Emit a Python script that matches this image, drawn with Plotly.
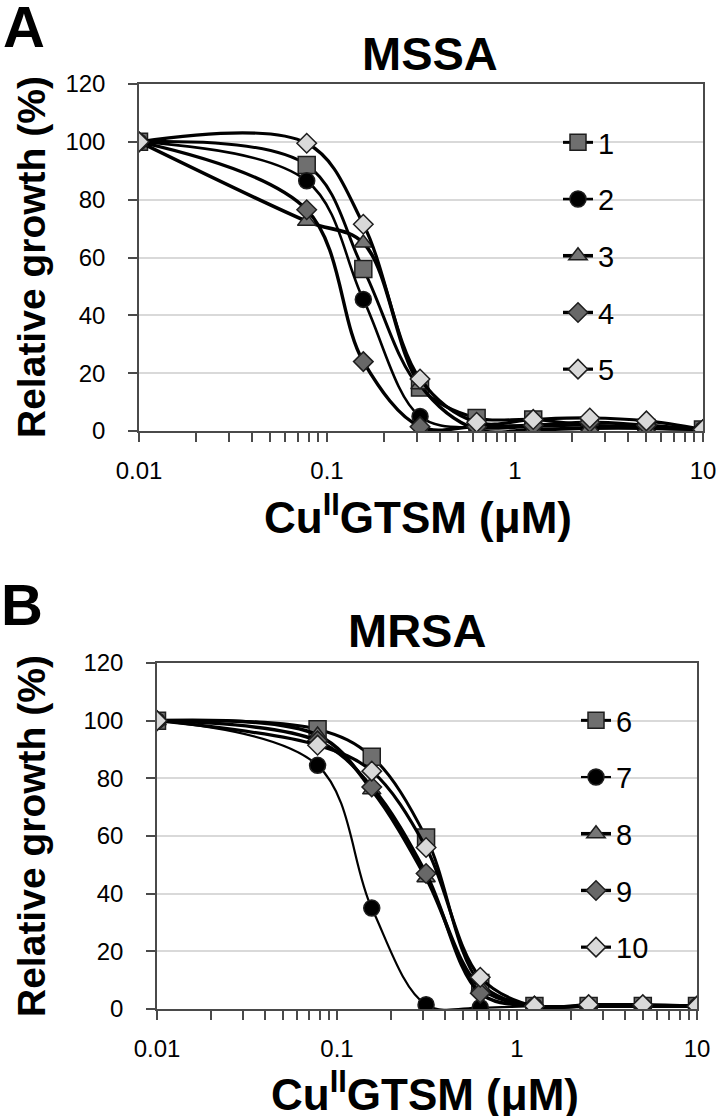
import plotly.graph_objects as go

# ---------------- data ----------------
conc = [0.01, 0.078, 0.156, 0.3125, 0.625, 1.25, 2.5, 5, 10]

mssa_names = ["1", "2", "3", "4", "5"]
mssa_1 = [100, 92, 56, 15, 4.5, 4, 2, 1, 0.5]
mssa_2 = [100, 86.5, 45.5, 5, 1, 1.5, 2, 1.5, 0.5]
mssa_3 = [100, 72.5, 65, 16, 0.5, 0.5, 1, 1, 0.5]
mssa_4 = [100, 76.5, 24, 1.5, 1.5, 2, 3, 2, 0.5]
mssa_5 = [100, 99.5, 71.5, 18, 3, 4, 4.5, 3.5, 0.5]

mrsa_names = ["6", "7", "8", "9", "10"]
mrsa_6 = [100, 97, 87.5, 59.5, 9, 1, 1, 1, 1]
mrsa_7 = [100, 84.5, 35, 1.5, 0.5, 1, 1, 1, 1]
mrsa_8 = [100, 95, 76, 45.5, 7.5, 1, 1, 1, 1]
mrsa_9 = [100, 93, 77, 47, 5.5, 1, 1, 1, 1]
mrsa_10 = [100, 91.5, 82.5, 56, 11, 1, 1.5, 1.5, 1]

x_tick_vals = [0.01, 0.1, 1, 10]
x_tick_text = ["0.01", "0.1", "1", "10"]
x_minor_vals = [m * d for d in (0.01, 0.1, 1) for m in range(2, 10)]
y_tick_vals = [0, 20, 40, 60, 80, 100, 120]

# ---------------- styles ----------------
W, H = 716, 1116
FONT = "Liberation Sans, Arial, sans-serif"
styles = [
    dict(symbol="square", size=17, color="#6f6f6f", lw=3.0),
    dict(symbol="circle", size=16, color="#000000", lw=2.6),
    dict(symbol="triangle-up", size=16, color="#767676", lw=3.6),
    dict(symbol="diamond", size=15, color="#686868", lw=3.4),
    dict(symbol="diamond", size=15, color="#d9d9d9", lw=3.2),
]


def px(x):
    return x / W


def py(y):
    return 1 - y / H


fig = go.Figure()

panels = [
    dict(names=mssa_names, series=[mssa_1, mssa_2, mssa_3, mssa_4, mssa_5],
         xa="x", ya="y", legend="legend"),
    dict(names=mrsa_names, series=[mrsa_6, mrsa_7, mrsa_8, mrsa_9, mrsa_10],
         xa="x2", ya="y2", legend="legend2"),
]

for p in panels:
    for i, (name, vals) in enumerate(zip(p["names"], p["series"])):
        st = styles[i]
        lw = st["lw"]
        if p["legend"] == "legend2" and i == 1:
            lw = 2.2
        fig.add_trace(go.Scatter(
            x=conc, y=vals, name=name, mode="lines+markers",
            xaxis=p["xa"], yaxis=p["ya"], legend=p["legend"],
            legendgroup=p["legend"] + name,
            line=dict(color="black", width=lw, shape="spline", smoothing=1),
            marker=dict(symbol=st["symbol"], size=st["size"], color=st["color"],
                        line=dict(color="#1e1e1e", width=1.5)),
        ))

axis_common = dict(showline=True, linecolor="#4a4a4a", linewidth=1.5, mirror=True,
                   ticks="outside", tickcolor="#4a4a4a", tickwidth=1.5, ticklen=9,
                   tickfont=dict(family=FONT, size=24, color="black"), zeroline=False,
                   automargin=False, tickangle=0, ticklabeloverflow="allow")

xa_common = dict(axis_common, type="log", range=[-2, 1], tickmode="array",
                 tickvals=x_tick_vals, ticktext=x_tick_text, showgrid=False,
                 ticklabelstandoff=8,
                 minor=dict(tickmode="array", tickvals=x_minor_vals, ticks="outside",
                            ticklen=9, tickwidth=1.5, tickcolor="#4a4a4a", showgrid=False))
ya_common = dict(axis_common, range=[0, 120], tickmode="array", tickvals=y_tick_vals,
                 showgrid=True, gridcolor="#d9d9d9", gridwidth=1.5,
                 ticklabelstandoff=18)

legend_common = dict(font=dict(family=FONT, size=29, color="black"),
                     bgcolor="rgba(0,0,0,0)", tracegroupgap=16,
                     xanchor="left", yanchor="top")

fig.update_layout(
    template="none",
    width=W, height=H, margin=dict(l=0, r=0, t=0, b=0, pad=0, autoexpand=False),
    paper_bgcolor="white", plot_bgcolor="white",
    xaxis=dict(xa_common, domain=[px(139), px(703)], anchor="y"),
    yaxis=dict(ya_common, domain=[py(431), py(84)], anchor="x"),
    xaxis2=dict(xa_common, domain=[px(157), px(697)], anchor="y2"),
    yaxis2=dict(ya_common, domain=[py(1009), py(663)], anchor="x2"),
    legend=dict(legend_common, x=px(558), y=py(117)),
    legend2=dict(legend_common, x=px(576), y=py(695)),
    showlegend=True,
)

ann = [
    dict(text="<b>A</b>", x=px(24), y=py(27), size=58, angle=0),
    dict(text="<b>B</b>", x=px(22), y=py(604), size=58, angle=0),
    dict(text="<b>MSSA</b>", x=px(430), y=py(53), size=47, angle=0),
    dict(text="<b>MRSA</b>", x=px(417), y=py(630), size=47, angle=0),
    dict(text="<b>Relative growth (%)</b>", x=px(31), y=py(257), size=39, angle=-90),
    dict(text="<b>Relative growth (%)</b>", x=px(31), y=py(836), size=39, angle=-90),
    dict(text="<b>Cu<sup>II</sup>GTSM (μM)</b>", x=px(418), y=py(514), size=44, angle=0),
    dict(text="<b>Cu<sup>II</sup>GTSM (μM)</b>", x=px(425), y=py(1091), size=44, angle=0),
]
for a in ann:
    fig.add_annotation(text=a["text"], x=a["x"], y=a["y"], xref="paper", yref="paper",
                       xanchor="center", yanchor="middle", showarrow=False,
                       textangle=a["angle"],
                       font=dict(family=FONT, size=a["size"], color="black"))

fig.write_html("out.html", config={"displayModeBar": False},
               post_script="document.body.style.margin='0px';")
